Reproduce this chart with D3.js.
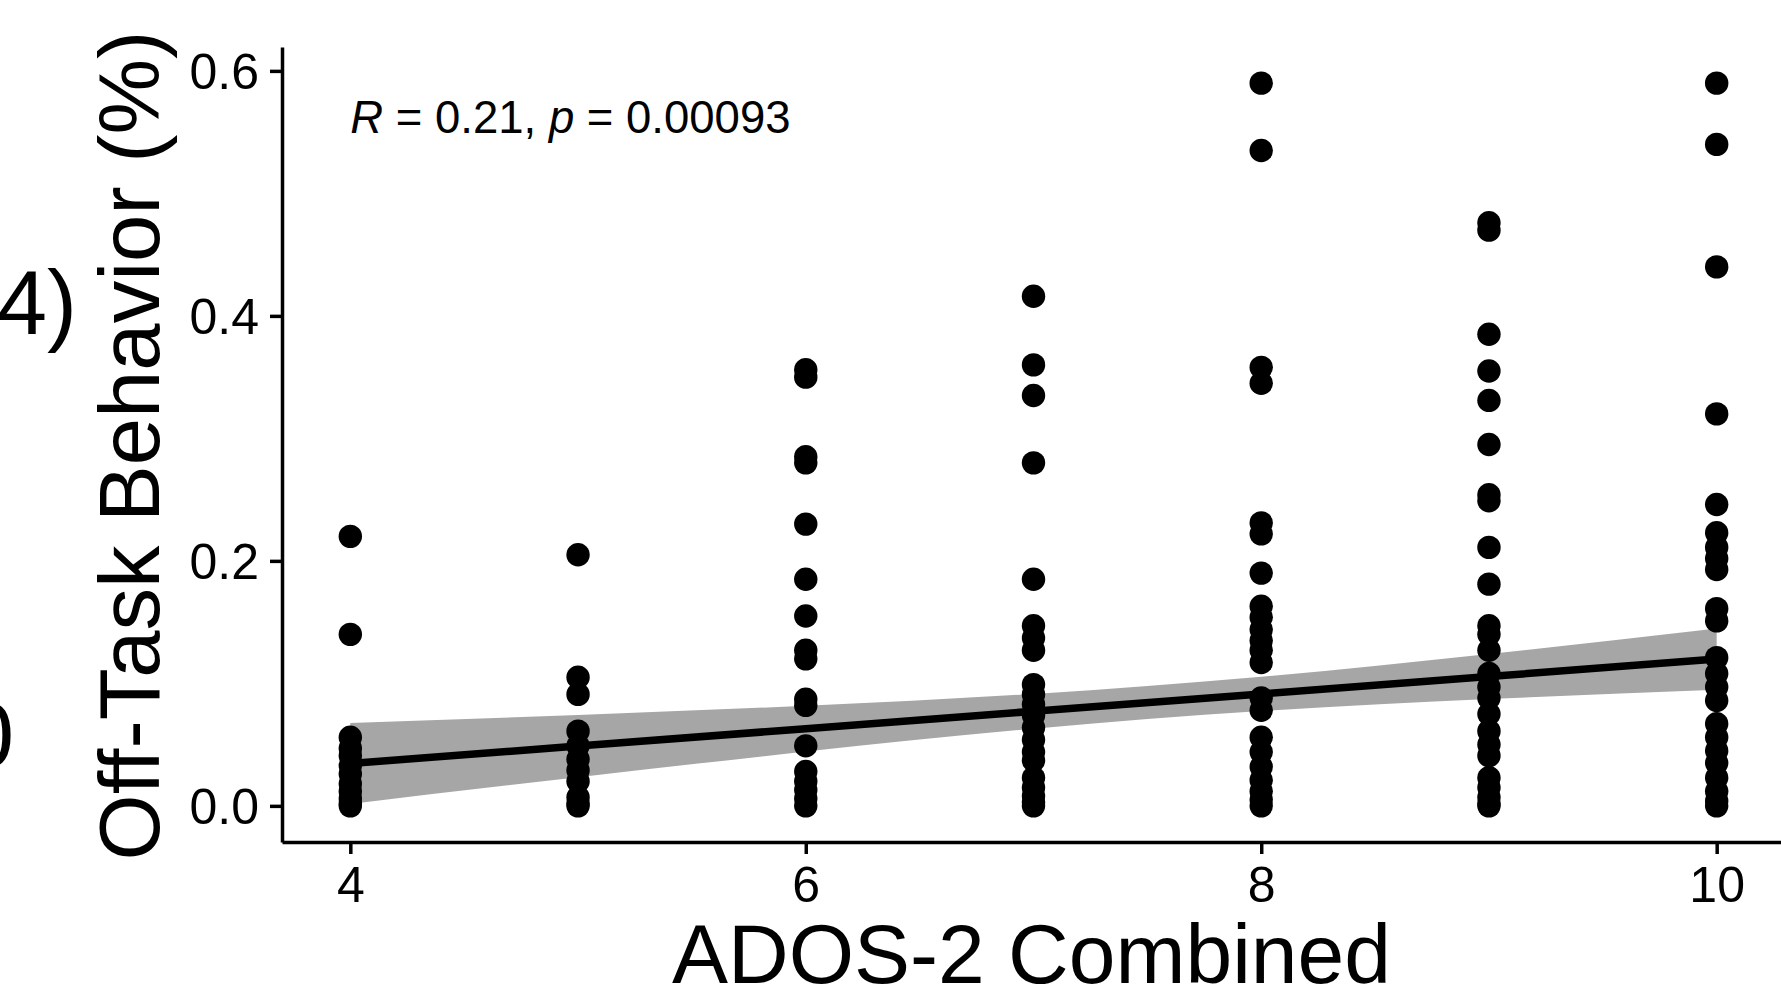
<!DOCTYPE html>
<html>
<head>
<meta charset="utf-8">
<script src="https://cdn.jsdelivr.net/npm/d3@7"></script>
<style>
  body { margin: 0; background: #fff; }
  svg { display: block; font-family: "Liberation Sans", Arial, sans-serif; }
</style>
</head>
<body>
<svg id="chart" width="1781" height="1000"></svg>
<script>
// ADOS-2 combined score (x) and off-task values read per score column
var adosScores = [4, 5, 6, 7, 8, 9, 10];
var offTask4 = [0.220, 0.140, 0.056, 0.047, 0.041, 0.033, 0.026, 0.018, 0.012, 0.006, 0.002, 0];
var offTask5 = [0.205, 0.105, 0.091, 0.061, 0.049, 0.038, 0.029, 0.020, 0.007, 0.002, 0];
var offTask6 = [0.356, 0.350, 0.285, 0.280, 0.230, 0.185, 0.155, 0.127, 0.120, 0.087, 0.082, 0.049, 0.028, 0.020, 0.013, 0.006, 0];
var offTask7 = [0.416, 0.360, 0.335, 0.280, 0.185, 0.147, 0.137, 0.127, 0.099, 0.091, 0.083, 0.074, 0.064, 0.054, 0.044, 0.037, 0.023, 0.015, 0.008, 0.003, 0];
var offTask8 = [0.590, 0.535, 0.358, 0.345, 0.231, 0.222, 0.190, 0.163, 0.154, 0.144, 0.135, 0.127, 0.117, 0.088, 0.078, 0.056, 0.044, 0.032, 0.021, 0.012, 0.005, 0];
var offTask9 = [0.476, 0.470, 0.385, 0.355, 0.331, 0.295, 0.254, 0.249, 0.211, 0.181, 0.147, 0.140, 0.127, 0.108, 0.097, 0.088, 0.075, 0.061, 0.050, 0.041, 0.023, 0.015, 0.007, 0.002, 0];
var offTask10 = [0.590, 0.540, 0.440, 0.320, 0.246, 0.223, 0.211, 0.202, 0.193, 0.161, 0.151, 0.121, 0.108, 0.097, 0.086, 0.067, 0.056, 0.045, 0.035, 0.023, 0.012, 0.004, 0];
var offTaskByScore = [offTask4, offTask5, offTask6, offTask7, offTask8, offTask9, offTask10];

// regression line and its confidence band
var fitX = [4, 5, 6, 7, 8, 9, 10];
var fitY = [0.0346, 0.0488, 0.0630, 0.0772, 0.0914, 0.1056, 0.1198];
var bandLo = [0.0016, 0.0234, 0.0443, 0.0630, 0.0774, 0.0872, 0.0948];
var bandHi = [0.0676, 0.0742, 0.0817, 0.0914, 0.1054, 0.1240, 0.1448];

var xTicks = [4, 6, 8, 10];
var yTicks = [0.0, 0.2, 0.4, 0.6];

var svg = d3.select("#chart");
var plotLeft = 282, plotRight = 1785, plotTop = 47, plotBottom = 842;

var x = d3.scaleLinear().domain([3.7, 10.3]).range([plotLeft, plotRight]);
var y = d3.scaleLinear().domain([-0.0295, 0.6195]).range([plotBottom, plotTop]);

var points = [];
adosScores.forEach(function (s, i) {
  offTaskByScore[i].forEach(function (v) { points.push({x: s, y: v}); });
});
var fit = fitX.map(function (d, i) { return {x: d, y: fitY[i], lo: bandLo[i], hi: bandHi[i]}; });

// confidence band
svg.append("path")
  .datum(fit)
  .attr("fill", "#a6a6a6")
  .attr("d", d3.area()
    .x(d => x(d.x))
    .y0(d => y(d.lo))
    .y1(d => y(d.hi))
    .curve(d3.curveNatural));

// points
svg.append("g")
  .selectAll("circle")
  .data(points)
  .enter().append("circle")
  .attr("cx", d => x(d.x))
  .attr("cy", d => y(d.y))
  .attr("r", 11.7)
  .attr("fill", "#000");

// regression line
svg.append("path")
  .datum(fit)
  .attr("fill", "none")
  .attr("stroke", "#000")
  .attr("stroke-width", 7.5)
  .attr("d", d3.line().x(d => x(d.x)).y(d => y(d.y)));

// axes
var yAxis = svg.append("g")
  .attr("transform", "translate(" + plotLeft + ",0)")
  .call(d3.axisLeft(y).tickValues(yTicks).tickFormat(d3.format(".1f"))
    .tickSize(12).tickSizeOuter(0).tickPadding(11));
yAxis.selectAll("text").attr("font-size", 50).attr("fill", "#000")
  .attr("font-family", "Liberation Sans, Arial, sans-serif").attr("dy", "0.36em");

var xAxis = svg.append("g")
  .attr("transform", "translate(0," + plotBottom + ")")
  .call(d3.axisBottom(x).tickValues(xTicks).tickFormat(d3.format("d"))
    .tickSize(12).tickSizeOuter(0).tickPadding(12));
xAxis.selectAll("text").attr("font-size", 50).attr("fill", "#000")
  .attr("font-family", "Liberation Sans, Arial, sans-serif");

svg.selectAll(".domain, .tick line").attr("stroke", "#000").attr("stroke-width", 3.5);

// correlation label
var lab = svg.append("text")
  .attr("x", x(4))
  .attr("y", 133)
  .attr("font-size", 45.5)
  .attr("fill", "#000");
lab.append("tspan").attr("font-style", "italic").text("R");
lab.append("tspan").text(" = 0.21, ");
lab.append("tspan").attr("font-style", "italic").text("p");
lab.append("tspan").text(" = 0.00093");

// axis titles
svg.append("text")
  .attr("transform", "translate(159," + ((plotTop + plotBottom) / 2 + 1) + ") rotate(-90)")
  .attr("text-anchor", "middle")
  .attr("font-size", 85)
  .attr("fill", "#000")
  .text("Off-Task Behavior (%)");

svg.append("text")
  .attr("x", (plotLeft + 1781) / 2)
  .attr("y", 983)
  .attr("text-anchor", "middle")
  .attr("font-size", 84)
  .attr("fill", "#000")
  .text("ADOS-2 Combined");

// pieces of the neighbouring panel cut off at the left edge
svg.append("text")
  .attr("x", -3)
  .attr("y", 334)
  .attr("font-size", 90)
  .attr("fill", "#000")
  .text("4)");

svg.append("text")
  .attr("x", -37)
  .attr("y", 767)
  .attr("font-size", 92)
  .attr("fill", "#000")
  .text("0");
</script>
</body>
</html>
